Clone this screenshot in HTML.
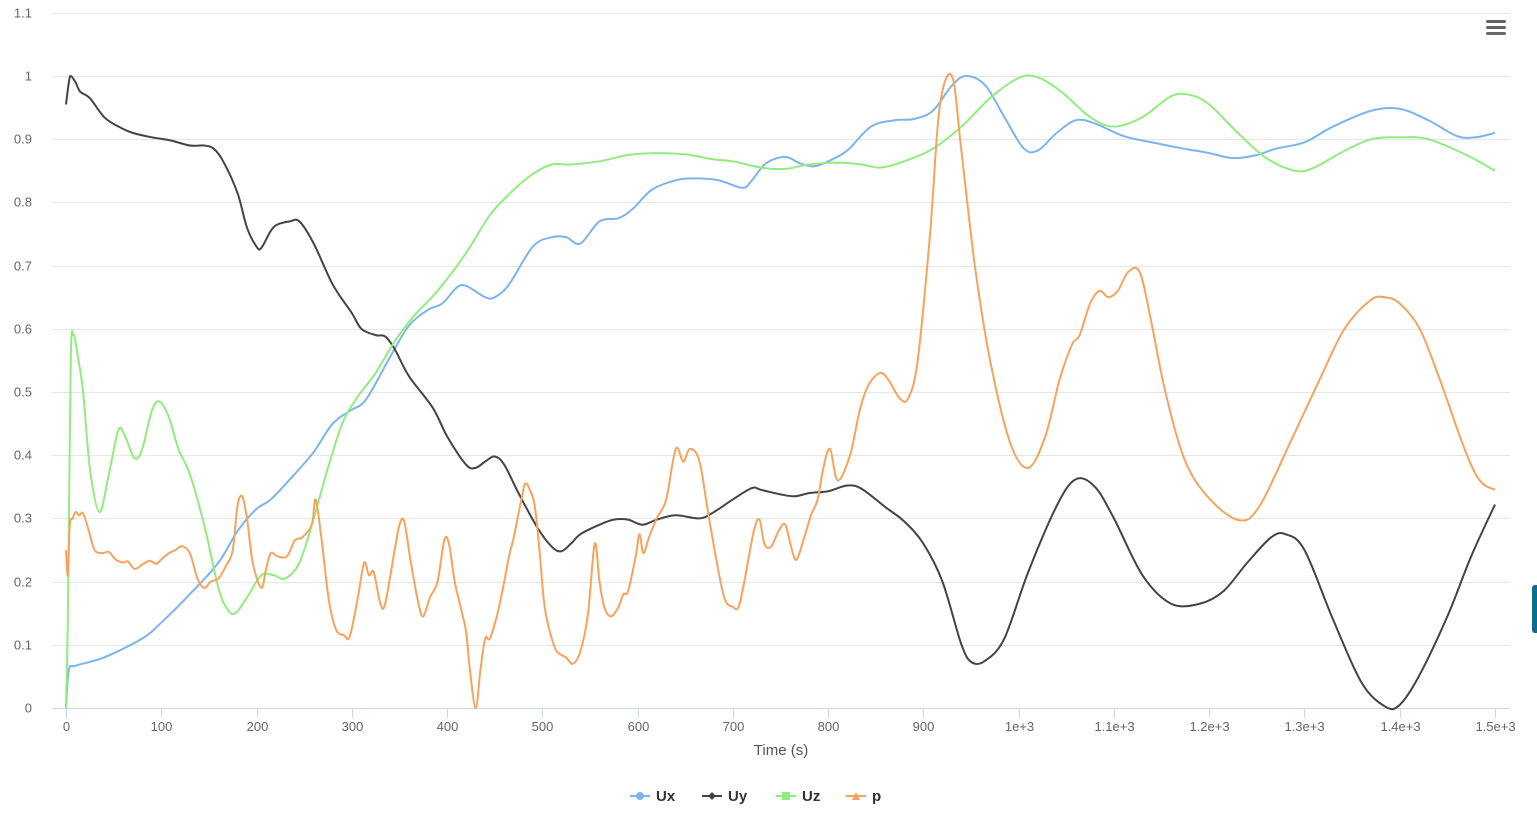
<!DOCTYPE html>
<html><head><meta charset="utf-8"><style>
body{margin:0;background:#fff;overflow:hidden}
svg{display:block;font-family:"Liberation Sans",sans-serif}
</style></head><body>
<svg id="chart" width="1537" height="816">
<rect width="1537" height="816" fill="#fff"/>
<g id="grid"></g><g id="axes"></g><g id="series"></g>
<text x="781" y="755" text-anchor="middle" font-size="15" fill="#555">Time (s)</text>
<g fill="#666">
<rect x="1486" y="20" width="20" height="3" rx="1.5"/><rect x="1486" y="26" width="20" height="3" rx="1.5"/><rect x="1486" y="32" width="20" height="3" rx="1.5"/>
</g>
<rect x="1532" y="585" width="8" height="48" rx="3" fill="#0b6d8c"/>
<g id="legend"></g>
</svg>
<script>
const yTicks=[0,0.1,0.2,0.3,0.4,0.5,0.6,0.7,0.8,0.9,1,1.1];
const xTicks=[0,100,200,300,400,500,600,700,800,900,1000,1100,1200,1300,1400,1500];
const xTickLabels=["0","100","200","300","400","500","600","700","800","900","1e+3","1.1e+3","1.2e+3","1.3e+3","1.4e+3","1.5e+3"];
const seriesNames=["Ux","Uy","Uz","p"];
const uxT=[0,3,10,40,80,100,130,160,180,200,215,240,260,280,300,310,320,340,360,380,395,410,420,440,450,465,490,510,525,540,560,580,595,615,640,660,685,710,720,735,755,770,785,800,820,845,870,890,910,930,945,965,985,1005,1020,1040,1060,1080,1110,1140,1170,1200,1225,1250,1270,1300,1330,1370,1400,1430,1460,1480,1500];
const uxV=[0,0.06,0.067,0.08,0.11,0.135,0.18,0.23,0.28,0.315,0.33,0.37,0.405,0.45,0.472,0.48,0.5,0.555,0.605,0.63,0.64,0.665,0.668,0.65,0.65,0.67,0.73,0.745,0.745,0.735,0.77,0.775,0.79,0.82,0.835,0.838,0.835,0.823,0.835,0.862,0.872,0.862,0.857,0.865,0.882,0.92,0.93,0.932,0.945,0.985,1.0,0.985,0.935,0.886,0.882,0.91,0.93,0.925,0.905,0.895,0.886,0.878,0.87,0.875,0.885,0.895,0.92,0.945,0.948,0.93,0.905,0.903,0.91];
const uyT=[0,3,5,10,15,25,40,55,70,90,110,130,145,155,165,180,190,200,205,215,222,235,245,260,280,300,310,325,335,345,360,385,400,420,430,440,450,460,475,495,510,520,530,540,560,575,590,605,620,640,665,680,700,720,730,750,765,780,800,820,835,860,880,900,920,940,951,965,985,1010,1040,1060,1080,1100,1130,1160,1190,1215,1240,1265,1280,1300,1330,1360,1385,1400,1420,1450,1475,1500];
const uyV=[0.955,0.99,1.0,0.99,0.975,0.965,0.935,0.92,0.91,0.903,0.898,0.89,0.89,0.885,0.865,0.815,0.76,0.73,0.728,0.755,0.765,0.77,0.77,0.735,0.67,0.625,0.6,0.59,0.588,0.568,0.525,0.475,0.43,0.385,0.38,0.39,0.398,0.385,0.34,0.285,0.255,0.248,0.26,0.275,0.29,0.298,0.298,0.29,0.298,0.305,0.3,0.31,0.33,0.348,0.345,0.338,0.335,0.34,0.343,0.352,0.347,0.318,0.295,0.26,0.2,0.1,0.072,0.075,0.11,0.215,0.32,0.362,0.35,0.3,0.21,0.165,0.165,0.185,0.23,0.27,0.275,0.25,0.14,0.04,0.002,0.005,0.05,0.145,0.24,0.322];
const uzT=[0,2,5,8,12,18,25,35,45,55,62,72,80,90,98,108,118,130,145,160,170,178,190,205,218,230,245,260,275,290,305,325,345,365,390,420,445,470,490,510,530,560,590,620,650,680,700,730,755,780,810,835,855,880,910,940,970,1000,1020,1045,1075,1100,1130,1160,1180,1200,1230,1260,1290,1310,1340,1370,1400,1430,1470,1500];
const uzV=[0,0.15,0.55,0.59,0.56,0.5,0.38,0.31,0.37,0.44,0.43,0.395,0.41,0.47,0.485,0.46,0.41,0.37,0.29,0.19,0.155,0.15,0.175,0.21,0.21,0.205,0.23,0.3,0.38,0.45,0.49,0.53,0.58,0.62,0.66,0.72,0.78,0.82,0.845,0.86,0.86,0.865,0.875,0.878,0.876,0.868,0.865,0.855,0.853,0.86,0.863,0.86,0.855,0.865,0.885,0.92,0.965,0.997,0.998,0.975,0.935,0.92,0.935,0.968,0.97,0.955,0.91,0.87,0.85,0.855,0.88,0.9,0.903,0.9,0.875,0.85];
const pT=[0,2,4,7,10,14,18,24,30,38,45,52,60,65,72,80,88,95,100,108,115,122,130,138,145,152,160,168,175,180,185,190,196,205,210,215,222,232,240,248,258,262,268,275,280,285,292,297,302,307,313,318,323,330,335,345,350,355,362,370,375,382,390,397,402,408,415,420,424,430,435,440,445,453,460,465,470,478,482,487,492,497,502,508,515,525,532,540,548,555,560,565,572,580,585,590,598,602,606,612,620,630,640,648,655,665,675,690,700,706,712,722,728,733,740,748,755,762,767,775,782,789,795,802,810,823,833,842,854,863,875,884,894,907,917,930,940,954,970,991,1010,1028,1043,1056,1064,1075,1085,1094,1104,1115,1127,1138,1154,1175,1201,1232,1253,1285,1316,1342,1369,1384,1400,1421,1442,1468,1484,1500];
const pV=[0.25,0.21,0.29,0.3,0.31,0.305,0.308,0.28,0.25,0.245,0.247,0.235,0.23,0.232,0.22,0.227,0.233,0.228,0.235,0.245,0.25,0.256,0.245,0.205,0.19,0.2,0.205,0.225,0.25,0.32,0.335,0.3,0.23,0.19,0.22,0.245,0.24,0.24,0.265,0.27,0.29,0.33,0.27,0.18,0.14,0.12,0.115,0.11,0.14,0.18,0.23,0.21,0.215,0.165,0.165,0.25,0.29,0.295,0.23,0.165,0.145,0.175,0.2,0.265,0.26,0.2,0.155,0.12,0.06,0.0,0.06,0.11,0.11,0.15,0.2,0.24,0.27,0.33,0.355,0.345,0.32,0.25,0.165,0.12,0.09,0.08,0.07,0.09,0.15,0.26,0.2,0.16,0.145,0.16,0.18,0.185,0.24,0.275,0.245,0.27,0.3,0.33,0.41,0.39,0.41,0.39,0.3,0.18,0.16,0.16,0.2,0.28,0.298,0.26,0.255,0.28,0.29,0.25,0.235,0.27,0.305,0.33,0.38,0.41,0.36,0.4,0.47,0.51,0.53,0.52,0.49,0.49,0.55,0.75,0.95,1.0,0.88,0.7,0.55,0.42,0.38,0.43,0.52,0.575,0.59,0.64,0.66,0.65,0.66,0.69,0.69,0.62,0.5,0.39,0.33,0.297,0.32,0.42,0.52,0.6,0.645,0.65,0.64,0.6,0.52,0.41,0.36,0.345];
const colors=["#7cb5ec","#434348","#90ed7d","#f7a35c"];
const NS="http://www.w3.org/2000/svg";
const X0=66,X1=1495,Y0=708,Y1=76;
const xs=v=>X0+(X1-X0)*v/1500;
const ys=v=>Y0-(Y0-Y1)*v;
function mk(tag,attrs,parent){const e=document.createElementNS(NS,tag);for(const k in attrs)e.setAttribute(k,attrs[k]);parent.appendChild(e);return e;}
const grid=document.getElementById('grid'),axes=document.getElementById('axes'),ser=document.getElementById('series'),leg=document.getElementById('legend');
yTicks.forEach(t=>{const y=Math.round(ys(t))+0.5;
 const l=mk('line',{x1:52,x2:1510,y1:y,y2:y,stroke:t===0?'#ccd6eb':'#e6e6e6'},grid);
 
 
 const tx=mk('text',{x:32,y:y+4,'text-anchor':'end','font-size':13,fill:'#666'},axes);tx.textContent=String(t);
 
 });
xTicks.forEach((t,i)=>{const x=Math.round(xs(t))+0.5;
 const l=mk('line',{x1:x,x2:x,y1:708,y2:718,stroke:'#ccd6eb'},axes);
 
 
 const tx=mk('text',{x:x,y:731,'text-anchor':'middle','font-size':13,fill:'#666'},axes);tx.textContent=xTickLabels[i];
 
 });
function path(T,V){const p=T.map((t,i)=>[xs(t),ys(V[i])]);let d='M'+p[0][0]+','+p[0][1];
 for(let i=0;i<p.length-1;i++){const a=p[Math.max(0,i-1)],b=p[i],c=p[i+1],e=p[Math.min(p.length-1,i+2)];const k=1/6;
  d+=' C'+(b[0]+(c[0]-a[0])*k)+','+(b[1]+(c[1]-a[1])*k)+' '+(c[0]-(e[0]-b[0])*k)+','+(c[1]-(e[1]-b[1])*k)+' '+c[0]+','+c[1];}
 return d;}
const data=[[uxT,uxV],[uyT,uyV],[uzT,uzV],[pT,pV]];
data.forEach((s,i)=>{const el=mk('path',{d:path(s[0],s[1]),fill:'none',stroke:colors[i],'stroke-width':2,'stroke-linejoin':'round'},ser);
 
 });
const lx=[630,702,776,846];
seriesNames.forEach((n,i)=>{const g=mk('g',{},leg);
 
 
 const x=lx[i],y=796;
 mk('line',{x1:x,x2:x+20,y1:y,y2:y,stroke:colors[i],'stroke-width':2},g);
 const c=x+10;
 if(i===0)mk('circle',{cx:c,cy:y,r:4,fill:colors[i]},g);
 if(i===1)mk('path',{d:`M${c},${y-4}L${c+4},${y}L${c},${y+4}L${c-4},${y}Z`,fill:colors[i]},g);
 if(i===2)mk('rect',{x:c-4,y:y-4,width:8,height:8,fill:colors[i]},g);
 if(i===3)mk('path',{d:`M${c},${y-4}L${c+4},${y+4}L${c-4},${y+4}Z`,fill:colors[i]},g);
 const t=mk('text',{x:x+26,y:y+5,'font-size':15,'font-weight':'bold',fill:'#333'},g);t.textContent=n;});
</script>
</body></html>
